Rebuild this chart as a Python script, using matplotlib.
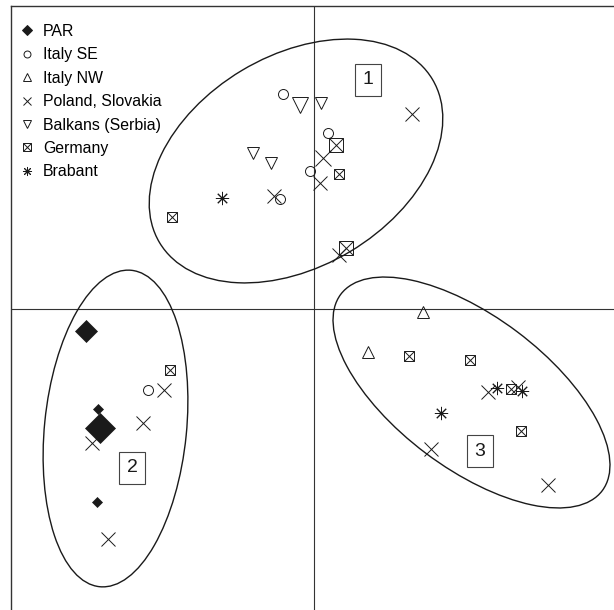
import matplotlib
matplotlib.use('Agg')
import matplotlib.pyplot as plt
from matplotlib.patches import Ellipse
from matplotlib.lines import Line2D
from matplotlib.legend_handler import HandlerTuple

plt.rcParams['font.family'] = ['Liberation Sans', 'DejaVu Sans']

# scores on the two axes, one list per group; n = number of coinciding items
par_x = [-2.28, -2.16, -2.14, -2.17]
par_y = [-0.22, -1.00, -1.19, -1.93]
par_n = [2, 1, 3, 1]

italy_se_x = [-0.31, 0.14, -0.04, -0.34, -1.66]
italy_se_y = [2.15, 1.76, 1.38, 1.10, -0.81]

italy_nw_x = [1.09, 0.54]
italy_nw_y = [-0.03, -0.43]

poland_x = [0.98, 0.09, 0.06, -0.40, 0.25, -1.50, -1.71, -2.22, -2.06, 1.74, 2.04, 1.17, 2.34]
poland_y = [1.95, 1.51, 1.26, 1.13, 0.54, -0.81, -1.14, -1.34, -2.30, -0.83, -0.78, -1.40, -1.76]
poland_n = [1, 2, 1, 1, 1, 1, 1, 1, 1, 1, 1, 1, 1]

balkans_x = [-0.14, 0.07, -0.61, -0.43]
balkans_y = [2.04, 2.06, 1.56, 1.46]
balkans_n = [2, 1, 1, 1]

germany_x = [0.22, 0.25, -1.42, 0.32, -1.44, 0.95, 1.56, 1.97, 2.07]
germany_y = [1.64, 1.35, 0.92, 0.61, -0.61, -0.47, -0.51, -0.80, -1.22]
germany_n = [2, 1, 1, 2, 1, 1, 1, 1, 1]

brabant_x = [-0.92, 1.83, 2.08, 1.27]
brabant_y = [1.11, -0.79, -0.82, -1.04]

# cluster ellipses: centre x, centre y, width, height, angle
clusters = ['1', '2', '3']
ell_cx = [-0.18, -1.985, 1.575]
ell_cy = [1.48, -1.195, -0.835]
ell_w = [3.18, 3.18, 3.27]
ell_h = [2.11, 1.42, 1.52]
ell_ang = [30.9, 84.3, -36.9]
label_x = [0.54, -1.82, 1.66]
label_y = [2.29, -1.59, -1.42]

legend_labels = ['PAR', 'Italy SE', 'Italy NW', 'Poland, Slovakia',
                 'Balkans (Serbia)', 'Germany', 'Brabant']

ink = '#1a1a1a'
star = (8, 2, 0)

fig = plt.figure(figsize=(6.14, 6.10), dpi=100)
ax = fig.add_axes([11 / 614, 0, 603 / 614, 604.5 / 610])
ax.set_xlim(-3.03, 3.0)
ax.set_ylim(-3.01, 3.035)
ax.set_xticks([])
ax.set_yticks([])
for s in ['right', 'bottom']:
    ax.spines[s].set_visible(False)
for s in ['left', 'top']:
    ax.spines[s].set_color('#333333')
    ax.spines[s].set_linewidth(1.0)

ax.axhline(0, color='#333333', lw=0.8, zorder=1)
ax.axvline(0, color='#333333', lw=0.8, zorder=1)

for cx, cy, w, h, a in zip(ell_cx, ell_cy, ell_w, ell_h, ell_ang):
    ax.add_patch(Ellipse((cx, cy), w, h, angle=a, fill=False,
                         edgecolor=ink, lw=1.0, zorder=2))


def draw(xs, ys, marker, base, ns=None, big=1.4, filled=False):
    if ns is None:
        ns = [1] * len(xs)
    for x, y, n in zip(xs, ys, ns):
        ms = base * (big if n == 2 else 1.0)
        ax.plot([x], [y], marker=marker, ms=ms, ls='none',
                mfc=ink if filled else 'none', mec=ink, mew=0.7, zorder=3)


# PAR diamonds scale with n
par_ms = {1: 4.7, 2: 11.2, 3: 14.9}
for x, y, n in zip(par_x, par_y, par_n):
    ax.plot([x], [y], marker='D', ms=par_ms[n], ls='none', mfc=ink, mec=ink,
            mew=0.5, zorder=3)

draw(italy_se_x, italy_se_y, 'o', 7.2)
draw(italy_nw_x, italy_nw_y, '^', 9.0)
draw(poland_x, poland_y, 'x', 9.4, poland_n, big=1.3)
draw(balkans_x, balkans_y, 'v', 8.6, balkans_n)
draw(germany_x, germany_y, 's', 7.2, germany_n)
draw(germany_x, germany_y, 'x', 7.2, germany_n)
draw(brabant_x, brabant_y, star, 9.5)

for t, x, y in zip(clusters, label_x, label_y):
    ax.text(x, y, t, fontsize=14, ha='center', va='center', color=ink,
            bbox=dict(boxstyle='square,pad=0.4', fc='white', ec='#444444', lw=0.8),
            zorder=4)

lk = dict(ls='none', color=ink, mec=ink, mew=0.7)
handles = [
    Line2D([], [], marker='D', ms=5, mfc=ink, **lk),
    Line2D([], [], marker='o', ms=5, mfc='none', **lk),
    Line2D([], [], marker='^', ms=6, mfc='none', **lk),
    Line2D([], [], marker='x', ms=5.5, mfc='none', **lk),
    Line2D([], [], marker='v', ms=6, mfc='none', **lk),
    (Line2D([], [], marker='s', ms=5.5, mfc='none', **lk),
     Line2D([], [], marker='x', ms=5.5, mfc='none', **lk)),
    Line2D([], [], marker=star, ms=6.5, mfc='none', **lk),
]
fig.legend(handles, legend_labels, loc='upper left',
           bbox_to_anchor=(19 / 614, 1 - 24 / 610), frameon=False,
           fontsize=11.4, handlelength=1.0, handletextpad=0.52,
           labelspacing=0.53, borderpad=0, borderaxespad=0,
           handler_map={tuple: HandlerTuple(ndivide=1, pad=0)})

fig.savefig('out.png', dpi=100)
